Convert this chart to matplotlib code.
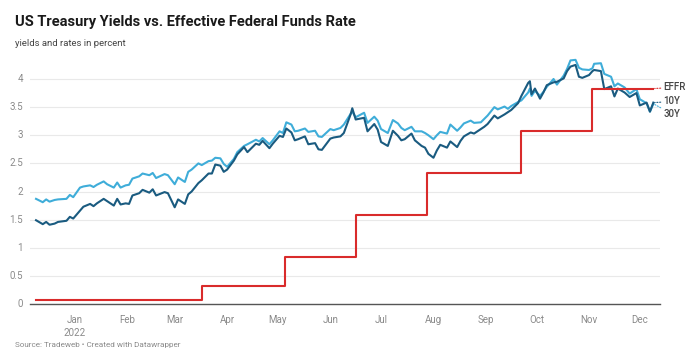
import matplotlib
matplotlib.use("Agg")
import matplotlib.pyplot as plt
import pandas as pd

plt.rcParams['font.family'] = ['Roboto', 'DejaVu Sans']

# ---- data ----
yield_dates = [
    "2021-12-09", "2021-12-13", "2021-12-15", "2021-12-17", "2021-12-20", "2021-12-22",
    "2021-12-27", "2021-12-29", "2021-12-31",
    "2022-01-04", "2022-01-06", "2022-01-10", "2022-01-12", "2022-01-14", "2022-01-18",
    "2022-01-20", "2022-01-24", "2022-01-26", "2022-01-28", "2022-01-31",
    "2022-02-02", "2022-02-04", "2022-02-08", "2022-02-10", "2022-02-14", "2022-02-16",
    "2022-02-18", "2022-02-23", "2022-02-25",
    "2022-03-01", "2022-03-03", "2022-03-07", "2022-03-09", "2022-03-11", "2022-03-15",
    "2022-03-17", "2022-03-21", "2022-03-23", "2022-03-25", "2022-03-28", "2022-03-30",
    "2022-04-01", "2022-04-05", "2022-04-07", "2022-04-11", "2022-04-13", "2022-04-18",
    "2022-04-20", "2022-04-22", "2022-04-26", "2022-04-28",
    "2022-05-02", "2022-05-04", "2022-05-06", "2022-05-09", "2022-05-11", "2022-05-13",
    "2022-05-17", "2022-05-19", "2022-05-23", "2022-05-25", "2022-05-27",
    "2022-06-01", "2022-06-03", "2022-06-07", "2022-06-09", "2022-06-13", "2022-06-14",
    "2022-06-16", "2022-06-21", "2022-06-23", "2022-06-27", "2022-06-29",
    "2022-07-01", "2022-07-05", "2022-07-08", "2022-07-11", "2022-07-13", "2022-07-15",
    "2022-07-19", "2022-07-21", "2022-07-25", "2022-07-27", "2022-07-29",
    "2022-08-01", "2022-08-03", "2022-08-05", "2022-08-09", "2022-08-11", "2022-08-15",
    "2022-08-17", "2022-08-19", "2022-08-23", "2022-08-25", "2022-08-29", "2022-08-31",
    "2022-09-02", "2022-09-06", "2022-09-08", "2022-09-12", "2022-09-14", "2022-09-16",
    "2022-09-20", "2022-09-22", "2022-09-26", "2022-09-27", "2022-09-28", "2022-09-30",
    "2022-10-03", "2022-10-05", "2022-10-07", "2022-10-11", "2022-10-13", "2022-10-17",
    "2022-10-19", "2022-10-21", "2022-10-24", "2022-10-26", "2022-10-28",
    "2022-11-01", "2022-11-03", "2022-11-04", "2022-11-08", "2022-11-10", "2022-11-14",
    "2022-11-16", "2022-11-18", "2022-11-22", "2022-11-25", "2022-11-29",
    "2022-12-01", "2022-12-05", "2022-12-07", "2022-12-09",
]
y10 = [
    1.49, 1.42, 1.46, 1.41, 1.43, 1.46, 1.48, 1.55, 1.52,
    1.66, 1.73, 1.78, 1.74, 1.79, 1.87, 1.83, 1.75, 1.87, 1.77, 1.79,
    1.78, 1.93, 1.97, 2.03, 1.98, 2.04, 1.93, 1.99, 1.97,
    1.72, 1.86, 1.78, 1.95, 2.00, 2.15, 2.20, 2.32, 2.32, 2.48, 2.46, 2.35,
    2.39, 2.55, 2.66, 2.79, 2.70, 2.85, 2.83, 2.90, 2.77, 2.85,
    2.99, 2.97, 3.12, 3.05, 2.91, 2.93, 2.98, 2.84, 2.86, 2.75, 2.74,
    2.94, 2.96, 2.98, 3.04, 3.37, 3.48, 3.28, 3.31, 3.07, 3.20, 3.10,
    2.88, 2.81, 3.08, 2.99, 2.91, 2.93, 3.03, 2.91, 2.81, 2.78, 2.67,
    2.60, 2.73, 2.83, 2.78, 2.89, 2.79, 2.90, 2.98, 3.05, 3.03, 3.11, 3.15,
    3.20, 3.35, 3.30, 3.37, 3.41, 3.45, 3.57, 3.70, 3.93, 3.96, 3.73, 3.83,
    3.65, 3.76, 3.89, 3.94, 3.95, 4.01, 4.14, 4.22, 4.25, 4.04, 4.02,
    4.07, 4.14, 4.16, 4.14, 3.82, 3.87, 3.69, 3.83, 3.76, 3.68, 3.75,
    3.53, 3.58, 3.42, 3.58,
]
y30 = [
    1.87, 1.81, 1.86, 1.82, 1.85, 1.86, 1.87, 1.94, 1.90,
    2.07, 2.09, 2.11, 2.08, 2.12, 2.18, 2.13, 2.07, 2.16, 2.07, 2.11,
    2.12, 2.23, 2.27, 2.32, 2.29, 2.33, 2.24, 2.31, 2.29,
    2.13, 2.25, 2.17, 2.35, 2.39, 2.50, 2.47, 2.54, 2.55, 2.60, 2.59, 2.49,
    2.44, 2.58, 2.70, 2.81, 2.84, 2.92, 2.89, 2.95, 2.84, 2.91,
    3.07, 3.04, 3.23, 3.19, 3.07, 3.08, 3.12, 3.06, 3.08, 2.98, 2.97,
    3.11, 3.09, 3.13, 3.19, 3.38, 3.42, 3.32, 3.40, 3.22, 3.33, 3.26,
    3.11, 3.04, 3.27, 3.21, 3.13, 3.09, 3.15, 3.07, 3.07, 3.04, 3.00,
    2.93, 3.00, 3.06, 3.03, 3.19, 3.08, 3.14, 3.21, 3.26, 3.22, 3.23, 3.29,
    3.35, 3.50, 3.46, 3.51, 3.47, 3.52, 3.59, 3.62, 3.76, 3.83, 3.70, 3.79,
    3.70, 3.77, 3.86, 4.00, 3.90, 4.06, 4.18, 4.33, 4.34, 4.20, 4.17,
    4.16, 4.19, 4.27, 4.28, 4.09, 4.04, 3.87, 3.92, 3.85, 3.74, 3.82,
    3.64, 3.57, 3.42, 3.56,
]
effr_dates = ["2021-12-09", "2021-12-31", "2022-01-03", "2022-03-17", "2022-05-05",
              "2022-06-16", "2022-07-28", "2022-09-22", "2022-11-03", "2022-12-09"]
effr = [0.08, 0.07, 0.08, 0.33, 0.83, 1.58, 2.33, 3.08, 3.83, 3.83]

series_labels = ["EFFR", "10Y", "30Y"]
label_y = [3.85, 3.60, 3.38]
y_ticks = [0, 0.5, 1, 1.5, 2, 2.5, 3, 3.5, 4]
month_ticks = ["2022-01-01", "2022-02-01", "2022-03-01", "2022-04-01", "2022-05-01",
               "2022-06-01", "2022-07-01", "2022-08-01", "2022-09-01", "2022-10-01",
               "2022-11-01", "2022-12-01"]
month_labels = ["Jan\n2022", "Feb", "Mar", "Apr", "May", "Jun", "Jul", "Aug", "Sep",
                "Oct", "Nov", "Dec"]

# ---- styling ----
C10 = "#1a5b80"
C30 = "#3fadd9"
CEFFR = "#d92b2b"
TICK = "#8a8a8a"

yd = pd.to_datetime(yield_dates)
ed = pd.to_datetime(effr_dates)

fig = plt.figure(figsize=(7.0, 3.62), dpi=100)
ax = fig.add_axes([0.043, 0.160, 0.900, 0.684])

ax.plot(yd, y30, color=C30, lw=1.5, zorder=3, solid_joinstyle="round")
ax.plot(yd, y10, color=C10, lw=1.5, zorder=4, solid_joinstyle="round")
ax.plot(ed, effr, color=CEFFR, lw=1.5, drawstyle="steps-post", zorder=5)

x0 = pd.Timestamp("2021-12-09") - pd.Timedelta(days=3.5)
x1 = pd.Timestamp("2022-12-09") + pd.Timedelta(days=4)
ax.set_xlim(x0, x1)
ax.set_ylim(0, 4.4)

ax.set_yticks(y_ticks)
ax.set_yticklabels([f"{v:g}" for v in y_ticks])
ax.set_xticks(pd.to_datetime(month_ticks))
ax.set_xticklabels(month_labels, linespacing=1.35)
ax.tick_params(axis="both", length=0, labelsize=7, labelcolor=TICK)
ax.tick_params(axis="y", pad=5)
ax.tick_params(axis="x", pad=8)
for lab in ax.get_yticklabels():
    lab.set_verticalalignment("center")

ax.grid(axis="y", color="#e9e9e9", lw=0.8)
ax.set_axisbelow(True)
for s in ["top", "right", "left"]:
    ax.spines[s].set_visible(False)
ax.spines["bottom"].set_color("#555555")
ax.spines["bottom"].set_linewidth(1.0)

# end labels
ends = [(ed[-1], effr[-1], CEFFR), (yd[-1], y10[-1], C10), (yd[-1], y30[-1], C30)]
for (xd, yv, col), lab, ly in zip(ends, series_labels, label_y):
    ax.annotate(lab, xy=(xd, yv), xytext=(xd + pd.Timedelta(days=6), ly),
                textcoords="data", fontsize=7, color="#444444", fontweight="medium",
                va="center", ha="left", annotation_clip=False,
                arrowprops=dict(arrowstyle="-", color=col, lw=0.8, ls=(0, (1, 1.5)),
                                shrinkA=0, shrinkB=1))

fig.text(15 / 700, 1 - 22 / 362, "US Treasury Yields vs. Effective Federal Funds Rate",
         fontsize=10.5, fontweight="bold", color="#1a1a1a", va="center", ha="left")
fig.text(15 / 700, 1 - 44 / 362, "yields and rates in percent",
         fontsize=6.8, color="#444444", va="center", ha="left")
fig.text(15 / 700, 1 - 345 / 362, "Source: Tradeweb • Created with Datawrapper",
         fontsize=5.9, color="#8a8a8a", va="center", ha="left")

fig.savefig("out.png", dpi=100, facecolor="white")
